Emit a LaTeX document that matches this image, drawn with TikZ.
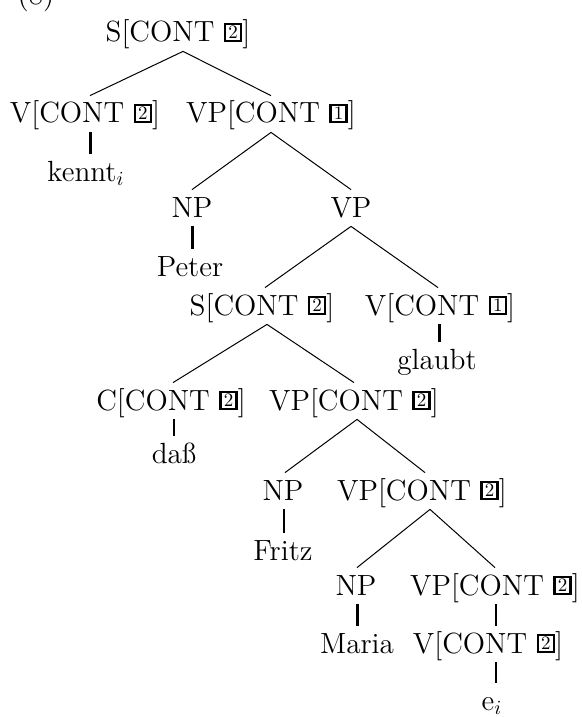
\documentclass[tikz,border=0pt]{standalone}
\newcommand{\bx}[1]{{\setlength{\fboxsep}{0pt}\setlength{\fboxrule}{1.2pt}\raisebox{1.2pt}{\fbox{\makebox[6.8pt]{\rule{0pt}{7.3pt}\raisebox{0.7pt}{\fontsize{9.5}{9.5}\selectfont #1}}}}}}
\begin{document}
\begin{tikzpicture}[x=0.5pt,y=-0.5pt,
  lab/.style={anchor=base, inner sep=1.5pt, text height=12pt, text depth=3pt, font=\fontsize{14.6}{17}\selectfont},
  branch/.style={line width=0.5pt},
  unithick/.style={line width=1.5pt},
  unithin/.style={line width=0.75pt}]
\useasboundingbox[fill=white] (0,0) rectangle (583,717);
\node[lab] (n8) at (36,5) {(8)};
\node[lab] (s1) at (178,42) {S[CONT \bx{2}]};
\node[lab] (v1) at (85,123) {V[CONT \bx{2}]};
\node[lab] (vp1) at (271,123) {VP[CONT \bx{1}]};
\node[lab] (kennt) at (86,181) {kennt$_i$};
\node[lab] (np1) at (192,217) {NP};
\node[lab] (vp2) at (351,217) {VP};
\node[lab] (peter) at (190,276) {Peter};
\node[lab] (s2) at (262,315) {S[CONT \bx{2}]};
\node[lab] (v2) at (440,315) {V[CONT \bx{1}]};
\node[lab] (glaubt) at (437,369) {glaubt};
\node[lab] (c1) at (171,410) {C[CONT \bx{2}]};
\node[lab] (vp3) at (354,410) {VP[CONT \bx{2}]};
\node[lab] (dass) at (174,463) {daß};
\node[lab] (np2) at (283,500) {NP};
\node[lab] (vp4) at (422,500) {VP[CONT \bx{2}]};
\node[lab] (fritz) at (283,560) {Fritz};
\node[lab] (np3) at (356,595) {NP};
\node[lab] (vp5) at (495,595) {VP[CONT \bx{2}]};
\node[lab] (maria) at (357,653) {Maria};
\node[lab] (v3) at (488,653) {V[CONT \bx{2}]};
\node[lab] (ei) at (492,710) {e$_i$};
% branches
\draw[branch] ([xshift=2.5pt]s1.south) -- ([xshift=2.5pt]v1.north);
\draw[branch] ([xshift=2.5pt]s1.south) -- (vp1.north);
\draw[branch] (vp1.south) -- (np1.north);
\draw[branch] (vp1.south) -- (vp2.north);
\draw[branch] (vp2.south) -- ([xshift=1.5pt]s2.north);
\draw[branch] (vp2.south) -- ([xshift=-1pt]v2.north);
\draw[branch] ([xshift=2.5pt]s2.south) -- ([xshift=1pt]c1.north);
\draw[branch] ([xshift=2.5pt]s2.south) -- (vp3.north);
\draw[branch] ([xshift=1.5pt]vp3.south) -- ([xshift=1pt]np2.north);
\draw[branch] ([xshift=1.5pt]vp3.south) -- ([xshift=1.5pt]vp4.north);
\draw[branch] ([xshift=4pt]vp4.south) -- ([xshift=0.5pt]np3.north);
\draw[branch] ([xshift=4pt]vp4.south) -- (vp5.north);
% unary
\draw[unithick] ([xshift=2.5pt]v1.south) -- ([xshift=2.5pt]v1.south |- kennt.north);
\draw[unithick] (np1.south) -- (np1.south |- peter.north);
\draw[unithick] ([xshift=-0.5pt]v2.south) -- ([xshift=-0.5pt]v2.south |- glaubt.north);
\draw[unithin] ([xshift=1.5pt]c1.south) -- ([xshift=1.5pt]c1.south |- dass.north);
\draw[unithin] ([xshift=0.5pt]np2.south) -- ([xshift=0.5pt]np2.south |- fritz.north);
\draw[unithick] ([xshift=0.5pt]np3.south) -- ([xshift=0.5pt]np3.south |- maria.north);
\draw[unithin] ([xshift=0.5pt]vp5.south) -- ([xshift=0.5pt]vp5.south |- v3.north);
\draw[unithin] ([xshift=4pt]v3.south) -- ([xshift=4pt]v3.south |- ei.north);
\end{tikzpicture}
\end{document}
